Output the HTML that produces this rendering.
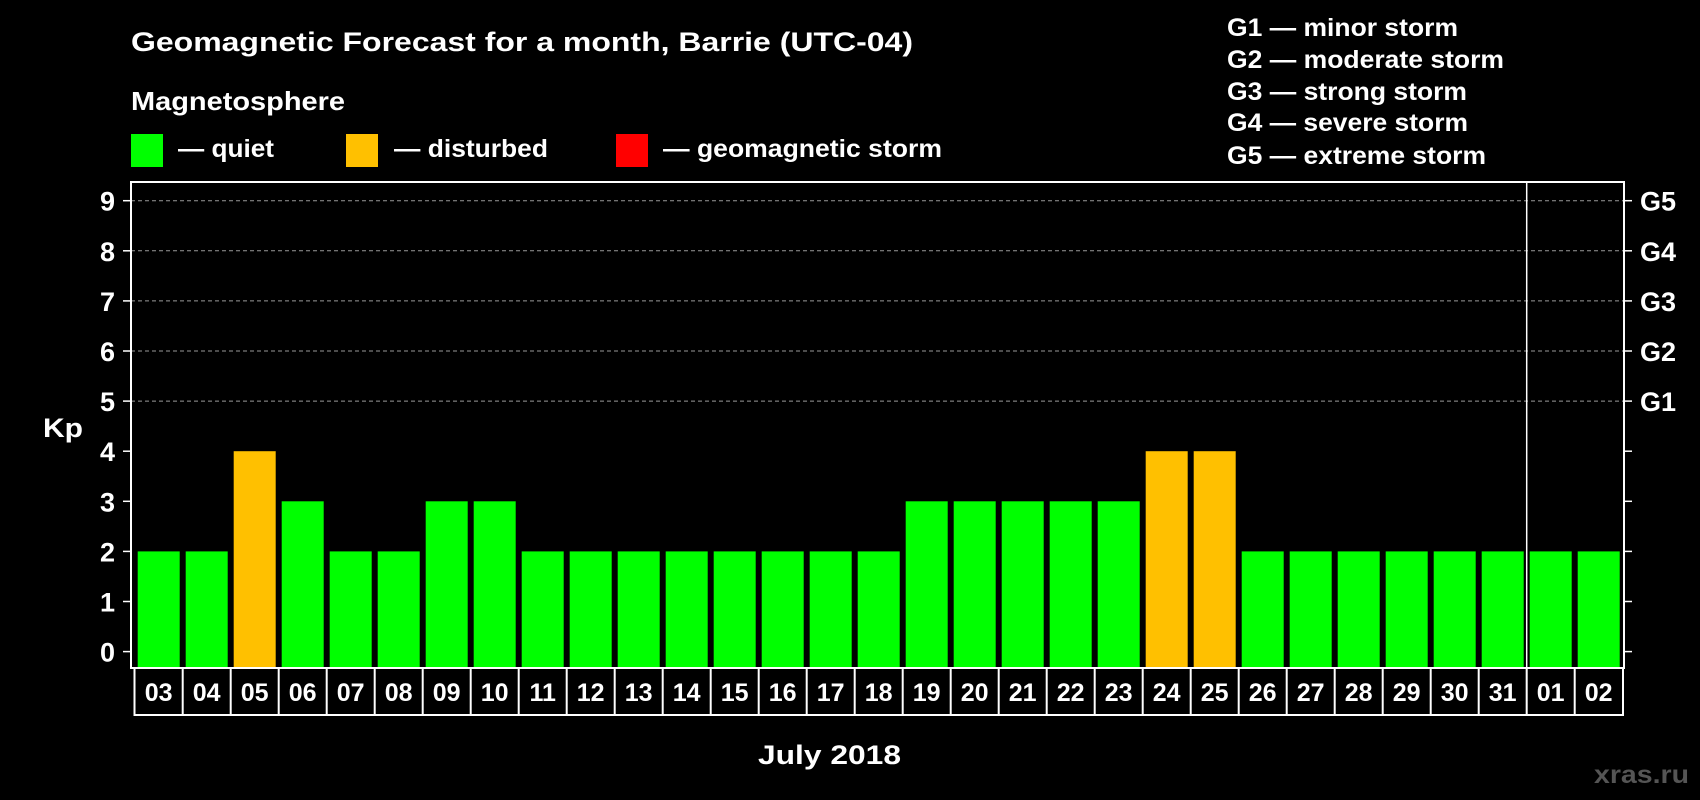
<!DOCTYPE html>
<html><head><meta charset="utf-8"><style>
html,body{margin:0;padding:0;background:#000;width:1700px;height:800px;overflow:hidden}
svg{display:block;font-family:"Liberation Sans",Arial,sans-serif;font-weight:bold}
</style></head><body>
<svg id="c" width="1700" height="800" viewBox="0 0 1700 800">
<rect x="0" y="0" width="1700" height="800" fill="#000"/>
<text x="131" y="51" fill="#fff" font-size="27" textLength="782" lengthAdjust="spacingAndGlyphs">Geomagnetic Forecast for a month, Barrie (UTC-04)</text>
<text x="131" y="110" fill="#fff" font-size="26" textLength="214" lengthAdjust="spacingAndGlyphs">Magnetosphere</text>
<g>
<rect x="131" y="134" width="32" height="33" fill="#00ff00"/>
<text x="178" y="157" fill="#fff" font-size="25" textLength="96" lengthAdjust="spacingAndGlyphs">— quiet</text></g>
<g>
<rect x="346" y="134" width="32" height="33" fill="#ffc000"/>
<text x="394" y="157" fill="#fff" font-size="25" textLength="154" lengthAdjust="spacingAndGlyphs">— disturbed</text></g>
<g>
<rect x="616" y="134" width="32" height="33" fill="#ff0000"/>
<text x="663" y="157" fill="#fff" font-size="25" textLength="279" lengthAdjust="spacingAndGlyphs">— geomagnetic storm</text></g>
<g font-size="25" fill="#fff">
<text x="1227" y="36" textLength="231" lengthAdjust="spacingAndGlyphs">G1 — minor storm</text>
<text x="1227" y="68" textLength="277" lengthAdjust="spacingAndGlyphs">G2 — moderate storm</text>
<text x="1227" y="100" textLength="240" lengthAdjust="spacingAndGlyphs">G3 — strong storm</text>
<text x="1227" y="131" textLength="241" lengthAdjust="spacingAndGlyphs">G4 — severe storm</text>
<text x="1227" y="164" textLength="259" lengthAdjust="spacingAndGlyphs">G5 — extreme storm</text>
</g>
<text x="43" y="437" fill="#fff" font-size="27" textLength="40" lengthAdjust="spacingAndGlyphs">Kp</text>
<text x="758" y="764" fill="#fff" font-size="27" textLength="143" lengthAdjust="spacingAndGlyphs">July 2018</text>
<text x="1594" y="783" fill="#555" font-size="25" textLength="95" lengthAdjust="spacingAndGlyphs">xras.ru</text>
<g id="grid"></g><g id="bars"></g><g id="axes"></g><g id="xlabels"></g>
</svg>
<script>
const days = ["03","04","05","06","07","08","09","10","11","12","13","14","15","16","17","18","19","20","21","22","23","24","25","26","27","28","29","30","31","01","02"];
const kpValues = [2,2,4,3,2,2,3,3,2,2,2,2,2,2,2,2,3,3,3,3,3,4,4,2,2,2,2,2,2,2,2];
const yTicks = [0,1,2,3,4,5,6,7,8,9];
const gLabels = ["G1","G2","G3","G4","G5"];
const gLevels = [5,6,7,8,9];
const monthBreakIndex = 29;

const NS = "http://www.w3.org/2000/svg";
const PL = 131, PR = 1624, PT = 182, PB = 668;
const X0 = 137.7, PITCH = 48, BW = 42;
function xPos(i){ return X0 + i*PITCH; }
function yPos(v){ return 651.6 - v*50.1; }
function mk(tag, attrs, parent){ const e = document.createElementNS(NS, tag); for (const k in attrs) e.setAttribute(k, attrs[k]); parent.appendChild(e); return e; }
function color(v){ return v >= 5 ? "#ff0000" : (v >= 4 ? "#ffc000" : "#00ff00"); }

const grid = document.getElementById("grid");
gLevels.forEach(function(v){
  const l = mk("line", {x1: PL, x2: PR, y1: yPos(v), y2: yPos(v), stroke: "#999", "stroke-width": 1, "stroke-dasharray": "4,3"}, grid);
  
  
});

const bars = document.getElementById("bars");
kpValues.forEach(function(v, i){
  const r = mk("rect", {x: xPos(i), y: yPos(v), width: BW, height: PB - yPos(v), fill: color(v)}, bars);
  
  
});

const axes = document.getElementById("axes");
const frame = mk("rect", {x: PL, y: PT, width: PR - PL, height: PB - PT, fill: "none", stroke: "#fff", "stroke-width": 2}, axes);


const divX = xPos(monthBreakIndex) - 3;
const div = mk("line", {x1: divX, x2: divX, y1: PT, y2: 716, stroke: "#fff", "stroke-width": 1.5}, axes);


yTicks.forEach(function(v){
  const y = yPos(v);
  const t = mk("line", {x1: PL - 8, x2: PL, y1: y, y2: y, stroke: "#fff", "stroke-width": 1.5}, axes);
  
  
  const t2 = mk("line", {x1: PR, x2: PR + 8, y1: y, y2: y, stroke: "#fff", "stroke-width": 1.5}, axes);
  
  
  const lb = mk("text", {x: 115, y: y + 10, fill: "#fff", "font-size": 27, "text-anchor": "end"}, axes);
  lb.textContent = v;
  
  
});
gLabels.forEach(function(g, i){
  const lb = mk("text", {x: 1640, y: yPos(gLevels[i]) + 10, fill: "#fff", "font-size": 27}, axes);
  lb.textContent = g;
  
  
});

const xl = document.getElementById("xlabels");
const box = mk("rect", {x: 134.5, y: PB, width: 1623 - 134.5, height: 47, fill: "none", stroke: "#fff", "stroke-width": 2}, xl);


days.forEach(function(d, i){
  if (i > 0) {
    const sx = xPos(i) - 3;
    const s = mk("line", {x1: sx, x2: sx, y1: PB, y2: PB + 47, stroke: "#fff", "stroke-width": 2}, xl);
    
    
  }
  const t = mk("text", {x: xPos(i) + BW/2, y: PB + 33, fill: "#fff", "font-size": 25, "text-anchor": "middle"}, xl);
  t.textContent = d;
  
  
});
</script>
</body></html>
